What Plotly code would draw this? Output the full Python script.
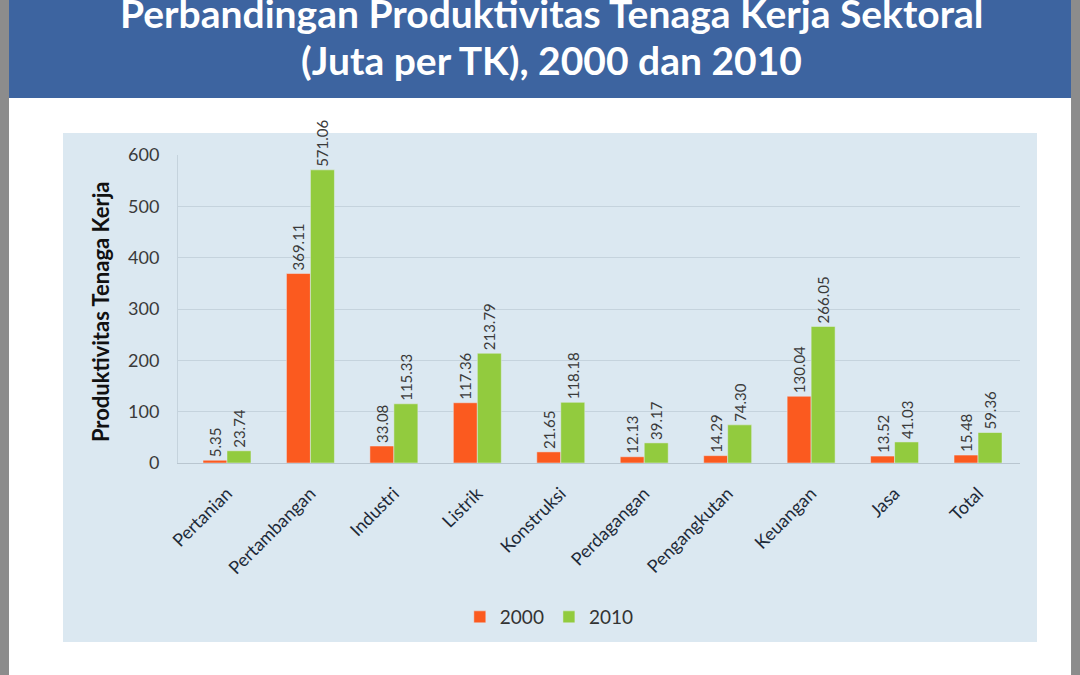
import plotly.graph_objects as go

# data
sektor = ["Pertanian", "Pertambangan", "Industri", "Listrik", "Konstruksi",
          "Perdagangan", "Pengangkutan", "Keuangan", "Jasa", "Total"]
th2000 = [5.35, 369.11, 33.08, 117.36, 21.65, 12.13, 14.29, 130.04, 13.52, 15.48]
th2010 = [23.74, 571.06, 115.33, 213.79, 118.18, 39.17, 74.30, 266.05, 41.03, 59.36]

label_2000 = ["%.2f" % v for v in th2000]
label_2010 = ["%.2f" % v for v in th2010]

FONT = "Lato"
panel = "#dbe8f1"

fig = go.Figure()
fig.add_trace(go.Bar(x=sektor, y=th2000, name="2000", marker_color="#fb5a1f",
                     text=label_2000, textposition="outside", textangle=-90,
                     constraintext="none",
                     textfont=dict(size=15, color="#3a3a3a"), cliponaxis=False))
fig.add_trace(go.Bar(x=sektor, y=th2010, name="2010", marker_color="#92cb3e",
                     text=label_2010, textposition="outside", textangle=-90,
                     constraintext="none",
                     textfont=dict(size=15, color="#3a3a3a"), cliponaxis=False))

shapes = [
    # gray side strips
    dict(type="rect", xref="paper", yref="paper", x0=-0.22, x1=-0.2007, y0=-0.7, y1=1.6,
         fillcolor="#8c8c8c", line_width=0, layer="below"),
    dict(type="rect", xref="paper", yref="paper", x0=1.0606, x1=1.08, y0=-0.7, y1=1.6,
         fillcolor="#8c8c8c", line_width=0, layer="below"),
    # blue header band
    dict(type="rect", xref="paper", yref="paper", x0=-0.2007, x1=1.0606, y0=1.185, y1=1.6,
         fillcolor="#3d64a0", line_width=0, layer="below"),
    # light blue chart panel
    dict(type="rect", xref="paper", yref="paper", x0=-0.1366, x1=1.0202, y0=-0.581, y1=1.0714,
         fillcolor=panel, line_width=0, layer="below"),
]

annotations = [
    dict(text="<b>Perbandingan Produktivitas Tenaga Kerja Sektoral</b>", xref="paper", yref="paper",
         x=0.443, y=1.46, xanchor="center", yanchor="middle", showarrow=False,
         font=dict(family=FONT, size=39, color="white")),
    dict(text="<b>(Juta per TK), 2000 dan 2010</b>", xref="paper", yref="paper",
         x=0.443, y=1.308, xanchor="center", yanchor="middle", showarrow=False,
         font=dict(family=FONT, size=39, color="white")),
    dict(text="<b>Produktivitas Tenaga Kerja</b>", xref="paper", yref="paper",
         x=-0.0926, y=0.49, xanchor="center", yanchor="middle", showarrow=False, textangle=-90,
         font=dict(family=FONT, size=22, color="#111111")),
]

fig.update_layout(
    width=1080, height=675,
    margin=dict(l=178, r=60, t=155, b=212),
    paper_bgcolor="white", plot_bgcolor=panel,
    font=dict(family=FONT, color="#333333"),
    barmode="group", bargap=0.425, bargroupgap=0,
    shapes=shapes, annotations=annotations,
    showlegend=True,
    legend=dict(orientation="h", x=0.441, xanchor="center", y=-0.5, yanchor="middle",
                font=dict(size=19, color="#333333"), bgcolor="rgba(0,0,0,0)",
                itemwidth=30, traceorder="normal"),
)
fig.update_xaxes(range=[-0.587, 9.503], tickangle=-45, tickfont=dict(size=18, color="#1d2a38"),
                 showline=True, linecolor="#b9c6d0", ticks="", ticklabelstandoff=12)
fig.update_yaxes(range=[0, 600], dtick=100, tickfont=dict(size=18, color="#3a3a3a"),
                 gridcolor="#c5d3dd", showline=True, linecolor="#c5d3dd",
                 zeroline=False, ticks="", ticklabelstandoff=14)

# the page body has a default 8px margin; remove it so the figure sits at 0,0
fig.write_html("out.html", config={"displayModeBar": False},
               post_script="document.body.style.margin='0px';")
